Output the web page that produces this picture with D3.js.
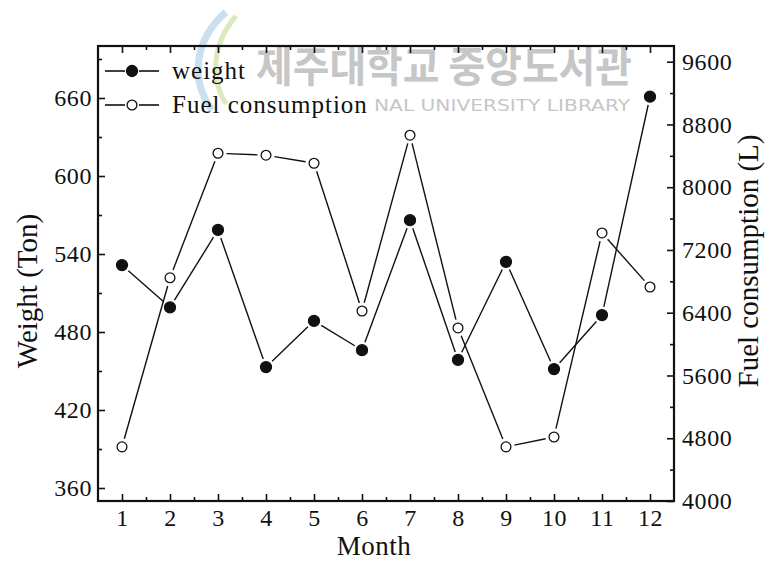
<!DOCTYPE html>
<html>
<head>
<meta charset="utf-8">
<script src="https://cdn.jsdelivr.net/npm/d3@7"></script>
<style>
  body { margin: 0; background: #fff; }
  svg { display: block; }
  text { font-family: "Liberation Serif", "Times New Roman", serif; fill: #111; }
</style>
</head>
<body>
<svg id="chart" width="770" height="562"></svg>
<script>
// values
const months = [1, 2, 3, 4, 5, 6, 7, 8, 9, 10, 11, 12];
const weight = [531.5, 499, 558.5, 453, 488.5, 466, 566, 458.5, 534, 451.5, 493, 661];
const fuel = [4690, 6845, 8433, 8408, 8306, 6422, 8663, 6206, 4690, 4816, 7417, 6728];

const weightTicks = [360, 420, 480, 540, 600, 660];
const weightMinor = [390, 450, 510, 570, 630, 690];
const fuelTicks = [4000, 4800, 5600, 6400, 7200, 8000, 8800, 9600];
const fuelMinor = [4400, 5200, 6000, 6800, 7600, 8400, 9200];
const monthMinor = [1.5, 2.5, 3.5, 4.5, 5.5, 6.5, 7.5, 8.5, 9.5, 10.5, 11.5];

const margin = {top: 46, right: 96, bottom: 61, left: 98};
const fullWidth = 770;
const fullHeight = 562;
const width = fullWidth - margin.left - margin.right;
const height = fullHeight - margin.top - margin.bottom;

const x = d3.scaleLinear().domain([0.5, 12.5]).range([0, width]);
const yL = d3.scaleLinear().domain([350, 700]).range([height, 0]);
const yR = d3.scaleLinear().domain([4000, 9800]).range([height, 0]);

const svg = d3.select('#chart');

// watermark of the scanned source
const wm = svg.append('g').attr('class', 'watermark');
wm.append('path')
    .attr('d', 'M226,12 C194,40 190,80 212,110')
    .attr('fill', 'none').attr('stroke', '#b3d1ea').attr('stroke-width', 7).attr('opacity', 0.7);
wm.append('path')
    .attr('d', 'M236,16 C212,44 210,78 226,104')
    .attr('fill', 'none').attr('stroke', '#d3e3ae').attr('stroke-width', 5).attr('opacity', 0.8);
wm.append('text')
    .attr('x', 256).attr('y', 82)
    .attr('textLength', 376).attr('lengthAdjust', 'spacingAndGlyphs')
    .style('font-family', '"Noto Sans CJK KR", sans-serif')
    .style('font-size', '42px').style('font-weight', 'bold')
    .style('fill', '#c6c6c6')
    .text('제주대학교 중앙도서관');
wm.append('text')
    .attr('x', 374).attr('y', 111)
    .attr('textLength', 256).attr('lengthAdjust', 'spacingAndGlyphs')
    .style('font-family', '"DejaVu Sans", sans-serif')
    .style('font-size', '15px')
    .style('fill', '#c6c6c6')
    .text('NAL UNIVERSITY  LIBRARY');

const g = svg.append('g')
    .attr('transform', `translate(${margin.left}, ${margin.top})`);

// axes: ticks point inward on all four sides
function minor(axis) {
    return sel => { sel.call(axis.tickFormat('')); sel.selectAll('text').remove(); };
}

g.append('g').attr('class', 'axis axis--x')
    .attr('transform', `translate(0, ${height})`)
    .call(d3.axisBottom(x).tickValues(months).tickSizeInner(-7).tickSizeOuter(0).tickPadding(8));
g.append('g').attr('class', 'axis axis--x-minor')
    .attr('transform', `translate(0, ${height})`)
    .call(minor(d3.axisBottom(x).tickValues(monthMinor).tickSizeInner(-4).tickSizeOuter(0)));
g.append('g').attr('class', 'axis axis--top')
    .call(minor(d3.axisTop(x).tickValues(months).tickSizeInner(-7).tickSizeOuter(0)));
g.append('g').attr('class', 'axis axis--top-minor')
    .call(minor(d3.axisTop(x).tickValues(monthMinor).tickSizeInner(-4).tickSizeOuter(0)));

g.append('g').attr('class', 'axis axis--left')
    .call(d3.axisLeft(yL).tickValues(weightTicks).tickSizeInner(-7).tickSizeOuter(0).tickPadding(6)
        .tickFormat(d3.format('d')));
g.append('g').attr('class', 'axis axis--left-minor')
    .call(minor(d3.axisLeft(yL).tickValues(weightMinor).tickSizeInner(-4).tickSizeOuter(0)));

g.append('g').attr('class', 'axis axis--right')
    .attr('transform', `translate(${width}, 0)`)
    .call(d3.axisRight(yR).tickValues(fuelTicks).tickSizeInner(-7).tickSizeOuter(0).tickPadding(8)
        .tickFormat(d3.format('d')));
g.append('g').attr('class', 'axis axis--right-minor')
    .attr('transform', `translate(${width}, 0)`)
    .call(minor(d3.axisRight(yR).tickValues(fuelMinor).tickSizeInner(-4).tickSizeOuter(0)));

g.selectAll('.axis .domain').remove();
g.selectAll('.axis line').attr('stroke', '#111').attr('stroke-width', 1.6);
g.selectAll('.axis text')
    .style('font-family', '"Liberation Serif", serif')
    .style('font-size', '24px')
    .style('letter-spacing', '0.6px')
    .style('fill', '#111');

g.append('rect')
    .attr('class', 'frame')
    .attr('width', width).attr('height', height)
    .attr('fill', 'none').attr('stroke', '#111').attr('stroke-width', 2.2);

// axis titles
svg.append('text')
    .attr('x', 374).attr('y', 555)
    .attr('text-anchor', 'middle')
    .style('font-size', '27px')
    .style('letter-spacing', '0.5px')
    .text('Month');
svg.append('text')
    .attr('transform', 'translate(37, 291) rotate(-90)')
    .attr('text-anchor', 'middle')
    .style('font-size', '29px')
    .text('Weight (Ton)');
svg.append('text')
    .attr('transform', 'translate(758, 261) rotate(-90)')
    .attr('text-anchor', 'middle')
    .style('font-size', '29px')
    .text('Fuel consumption (L)');

// series: segments stop short of the markers, as in the original plot
const r = 5.5;
const gap = r + 3;

function drawSeries(values, yScale, filled, cls) {
    const pts = values.map((v, i) => [x(months[i]), yScale(v)]);
    const segs = d3.pairs(pts).map(([a, b]) => {
        const dx = b[0] - a[0], dy = b[1] - a[1];
        const len = Math.hypot(dx, dy);
        const ux = dx / len, uy = dy / len;
        return [a[0] + ux * gap, a[1] + uy * gap, b[0] - ux * gap, b[1] - uy * gap];
    });
    const s = g.append('g').attr('class', `series ${cls}`);
    s.selectAll('line').data(segs)
        .enter().append('line')
            .attr('x1', d => d[0]).attr('y1', d => d[1])
            .attr('x2', d => d[2]).attr('y2', d => d[3])
            .attr('stroke', '#111').attr('stroke-width', 1.4);
    s.selectAll('circle').data(pts)
        .enter().append('circle')
            .attr('cx', d => d[0]).attr('cy', d => d[1])
            .attr('r', filled ? r : r - 0.6)
            .attr('fill', filled ? '#111' : '#fff')
            .attr('stroke', '#111').attr('stroke-width', 1.3);
}

drawSeries(fuel, yR, false, 'series--fuel');
drawSeries(weight, yL, true, 'series--weight');

// legend
const legendItems = [
    {label: 'weight', filled: true},
    {label: 'Fuel consumption', filled: false},
];
const legend = svg.append('g').attr('class', 'legend')
    .attr('transform', 'translate(105, 71)');
const item = legend.selectAll('.legend-item').data(legendItems)
    .enter().append('g')
        .attr('class', 'legend-item')
        .attr('transform', (d, i) => `translate(0, ${i * 34})`);
item.append('line').attr('x1', 0).attr('x2', 20).attr('stroke', '#111').attr('stroke-width', 1.6);
item.append('line').attr('x1', 34).attr('x2', 54).attr('stroke', '#111').attr('stroke-width', 1.6);
item.append('circle')
    .attr('cx', 27).attr('r', d => d.filled ? r : r - 0.6)
    .attr('fill', d => d.filled ? '#111' : '#fff')
    .attr('stroke', '#111').attr('stroke-width', 1.3);
item.append('text')
    .attr('x', 67).attr('y', 8)
    .style('font-size', '25px')
    .style('letter-spacing', '1px')
    .text(d => d.label);
</script>
</body>
</html>
